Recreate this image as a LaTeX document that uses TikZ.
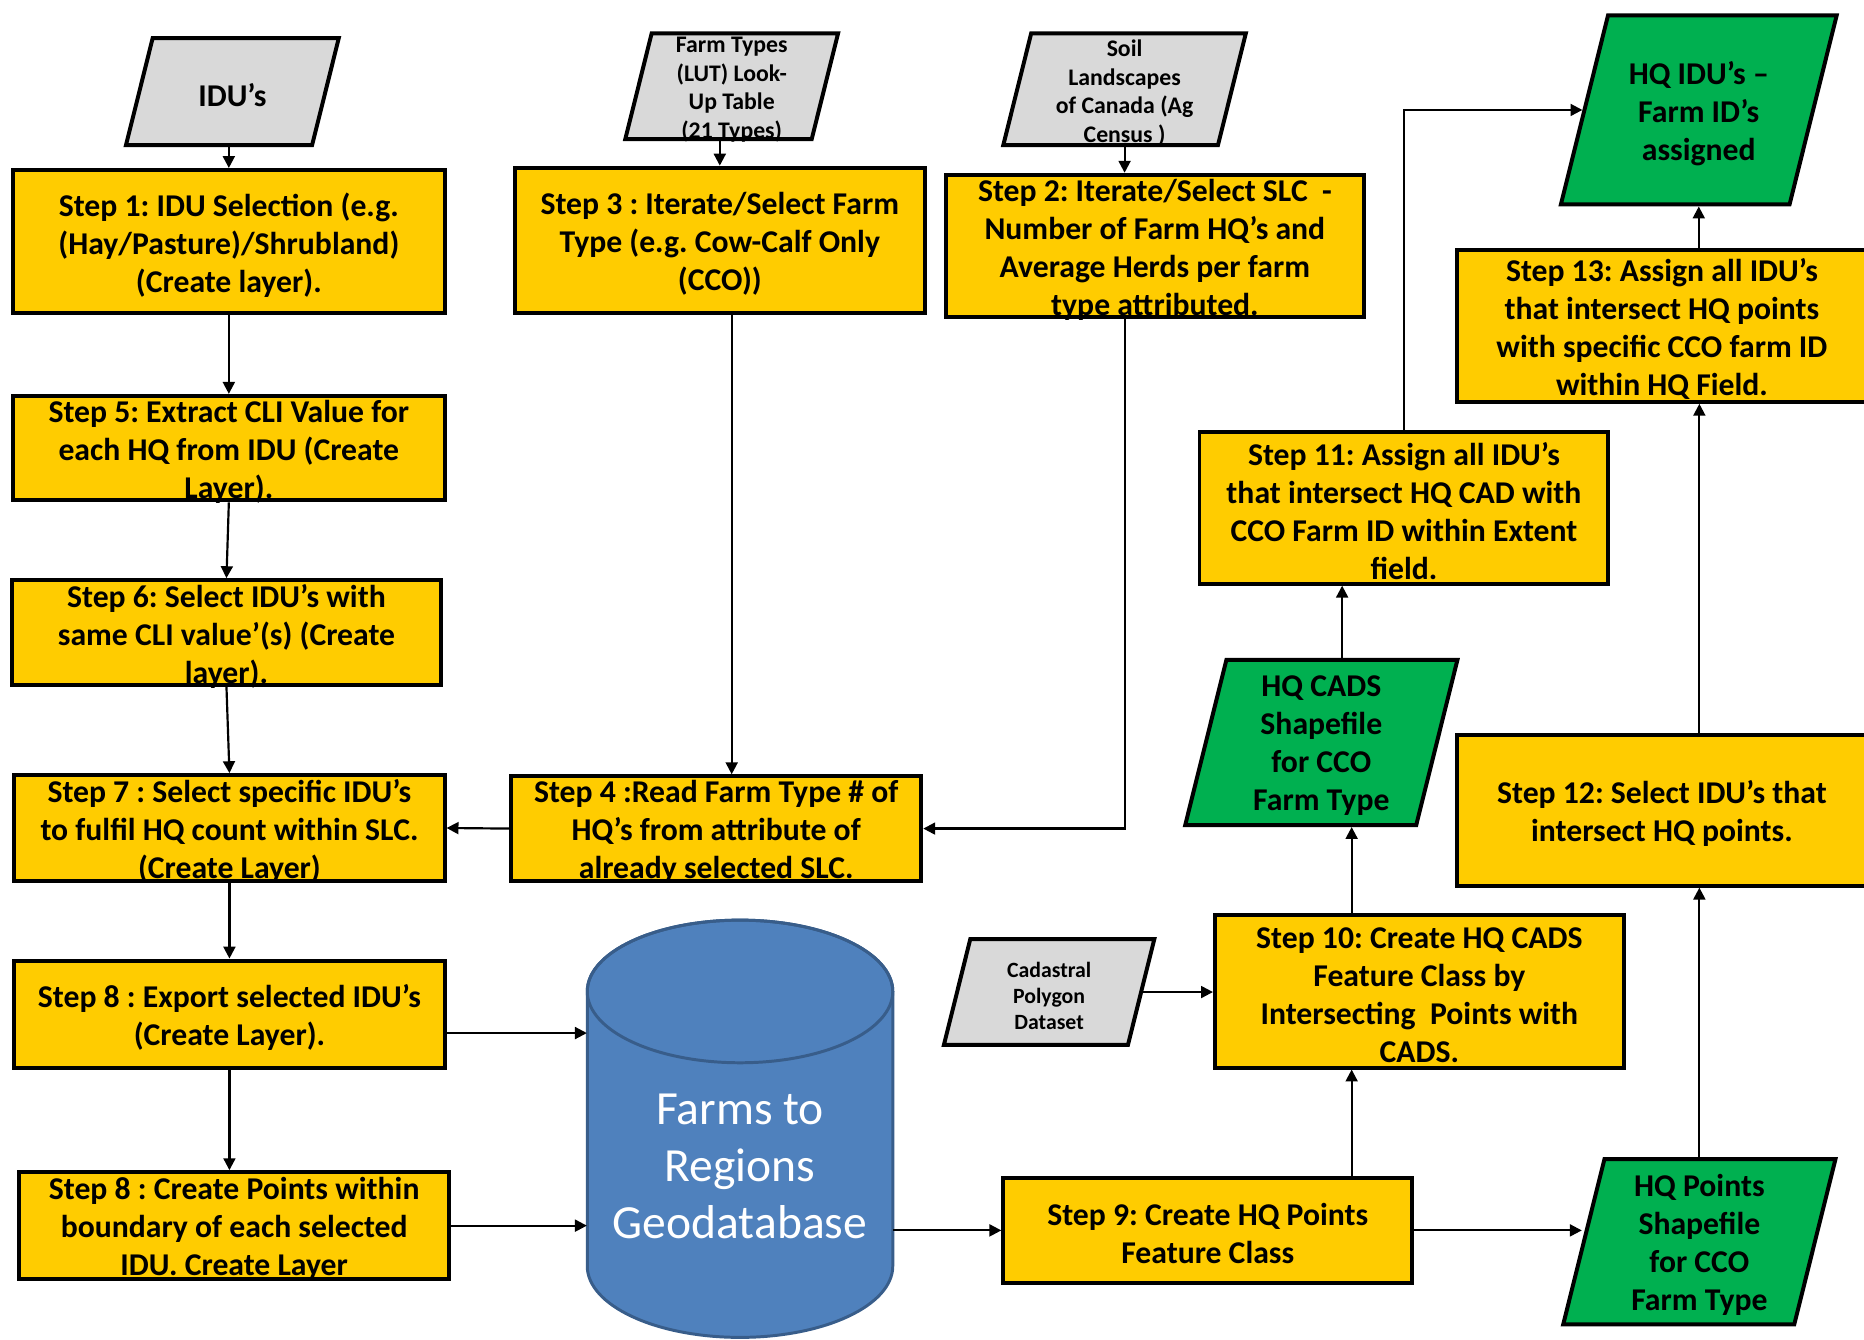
\documentclass[tikz,border=0pt]{standalone}
\usepackage{fontspec}
\setmainfont{Carlito}
\frenchspacing
\usetikzlibrary{shapes.geometric}
\usetikzlibrary{arrows.meta}
\definecolor{stepyellow}{HTML}{FFCC00}
\definecolor{outgreen}{HTML}{00B050}
\definecolor{ingray}{HTML}{D9D9D9}
\definecolor{dbblue}{HTML}{4F81BD}
\definecolor{dbedge}{HTML}{385D8A}
\tikzstyle{stepbox}=[draw, line width=2pt, fill=stepyellow, inner sep=0pt]
\tikzstyle{slanted}=[draw, line width=2pt, inner xsep=0pt, trapezium, trapezium left angle=76, trapezium right angle=104, trapezium stretches body]
\tikzstyle{inbox}=[slanted, fill=ingray]
\tikzstyle{outbox}=[slanted, fill=outgreen]
\tikzstyle{boxtext}=[align=center, inner sep=0pt, yshift=-1.8pt, font=\fontsize{16}{19.2}\selectfont\bfseries]
\tikzstyle{smalltext}=[boxtext, font=\fontsize{12}{14.4}\selectfont\bfseries]
\tikzstyle{tinytext}=[boxtext, font=\fontsize{11}{13.2}\selectfont\bfseries]
\tikzstyle{dbtext}=[align=center, inner sep=0pt, text=white, minimum width=154.2pt, font=\fontsize{24}{28.8}\selectfont]
\tikzstyle{flowline}=[line width=1.1pt, -{Triangle[length=6pt, width=6pt]}]

\begin{document}
\begin{tikzpicture}[x=0.6pt, y=-0.6pt]
        \useasboundingbox (0,0) rectangle (1568,1127);
        % inputs
        \node[inbox, minimum width=107.4pt, inner ysep=27pt, label={[boxtext]center:{IDU's}}]                          (idu) at (195.5,77) {};
        \node[inbox, minimum width=107.4pt, inner ysep=26.7pt, label={[smalltext]center:{Farm Types\\(LUT) Look-\\Up Table\\(21 Types)}}] (farm) at (615.5,72.5) {};
        \node[inbox, minimum width=122.4pt, inner ysep=28.2pt, label={[smalltext]center:{Soil\\Landscapes\\of Canada (Ag\\Census )}}]    (soil) at (946,75) {};
        \node[inbox, minimum width=106.2pt, inner ysep=26.7pt, label={[tinytext]center:{Cadastral\\Polygon\\Dataset}}]                  (cadastral) at (882.5,834.5) {};
        % outputs
        \node[outbox, minimum width=139.2pt, inner ysep=47.7pt, label={[boxtext]center:{HQ IDU's --\\Farm ID's\\assigned}}]             (hqidu) at (1429,92.5) {};
        \node[outbox, minimum width=137.4pt, inner ysep=41.7pt, label={[boxtext]center:{HQ CADS\\Shapefile\\for CCO\\Farm Type}}]      (cads) at (1111.5,624.5) {};
        \node[outbox, minimum width=137.4pt, inner ysep=41.7pt, label={[boxtext]center:{HQ Points\\Shapefile\\for CCO\\Farm Type}}]    (hqpts) at (1429.5,1044.5) {};
        % steps
        \node[stepbox, minimum width=217.8pt, minimum height=72pt, label={[boxtext]center:{Step 1: IDU Selection (e.g.\\(Hay/Pasture)/Shrubland)\\(Create layer).}}] (s1) at (192.5,203) {};
        \node[stepbox, minimum width=210.6pt, minimum height=72pt, label={[boxtext]center:{Step 2: Iterate/Select SLC~ -\\Number of Farm HQ's and\\Average Herds per farm\\type attributed.}}] (s2) at (971.5,207) {};
        \node[stepbox, minimum width=207pt, minimum height=73.2pt, label={[boxtext]center:{Step 3 : Iterate/Select Farm\\Type (e.g. Cow-Calf Only\\(CCO))}}] (s3) at (605.5,202) {};
        \node[stepbox, minimum width=207pt, minimum height=52.8pt, label={[boxtext]center:{Step 4 :Read Farm Type \# of\\HQ's from attribute of\\already selected SLC.}}] (s4) at (602.5,697) {};
        \node[stepbox, minimum width=217.8pt, minimum height=52.8pt, label={[boxtext]center:{Step 5: Extract CLI Value for\\each HQ from IDU (Create\\Layer).}}] (s5) at (192.5,377) {};
        \node[stepbox, minimum width=216.6pt, minimum height=52.8pt, label={[boxtext]center:{Step 6: Select IDU's with\\same CLI value'(s) (Create\\layer).}}] (s6) at (190.5,532) {};
        \node[stepbox, minimum width=217.2pt, minimum height=53.4pt, label={[boxtext]center:{Step 7 : Select specific IDU's\\to fulfil HQ count within SLC.\\(Create Layer)}}] (s7) at (193,696.5) {};
        \node[stepbox, minimum width=217.2pt, minimum height=54pt, label={[boxtext]center:{Step 8 : Export selected IDU's\\(Create Layer).}}] (s8) at (193,853) {};
        \node[stepbox, minimum width=217.2pt, minimum height=54pt, label={[boxtext]center:{Step 8 : Create Points within\\boundary of each selected\\IDU. Create Layer}}] (s8b) at (197,1031) {};
        \node[stepbox, minimum width=206.4pt, minimum height=52.8pt, label={[boxtext]center:{Step 9: Create HQ Points\\Feature Class}}] (s9) at (1016,1035) {};
        \node[stepbox, minimum width=206.4pt, minimum height=76.8pt, label={[boxtext]center:{Step 10: Create HQ CADS\\Feature Class by\\Intersecting~ Points with\\CADS.}}] (s10) at (1194,834) {};
        \node[stepbox, minimum width=206.4pt, minimum height=76.8pt, label={[boxtext]center:{Step 11: Assign all IDU's\\that intersect HQ CAD with\\CCO Farm ID within Extent\\field.}}] (s11) at (1181,427) {};
        \node[stepbox, minimum width=206.4pt, minimum height=76.2pt, label={[boxtext]center:{Step 12: Select IDU's that\\intersect HQ points.}}] (s12) at (1398,681.5) {};
        \node[stepbox, minimum width=206.4pt, minimum height=76.8pt, label={[boxtext]center:{Step 13: Assign all IDU's\\that intersect HQ points\\with specific CCO farm ID\\within HQ Field.}}] (s13) at (1398,274) {};
        % geodatabase
        \path[draw=dbedge, fill=dbblue, line width=1.5pt] (494,834) -- (494,1065)
            arc[start angle=180, end angle=360, x radius=77.1pt, y radius=36pt] -- (751,834)
            arc[start angle=0, end angle=180, x radius=77.1pt, y radius=36pt] -- cycle;
        \draw[dbedge, line width=1.5pt] (622.5,834) ellipse[x radius=77.1pt, y radius=36pt];
        \node[dbtext] (db) at (622.5,981) {Farms to\\Regions\\Geodatabase};
        % connectors
        \coordinate (s3out) at ([xshift=6pt]s3.south);
        \coordinate (s8out) at ([yshift=-9.6pt]s8.east);
        \coordinate (s10in) at ([xshift=-34.2pt]s10.south);
        \coordinate (s10out) at ([xshift=-34.2pt]s10.north);
        \coordinate (cadsout) at ([xshift=10.5pt]cads.north);
        \draw[flowline] (s1.north |- idu.south) -- (s1.north);
        \draw[flowline] (s3.north |- farm.south) -- (s3.north);
        \draw[flowline] (soil.south) -- (soil.south |- s2.north);
        \draw[flowline] (s1.south) -- (s5.north);
        \draw[flowline] (s5.south) -- (s6.north);
        \draw[flowline] (s6.south) -- (s7.north);
        \draw[flowline] (s7.south) -- (s8.north);
        \draw[flowline] (s8.south) -- (s8.south |- s8b.north);
        \draw[flowline] (s3out) -- (s3out |- s4.north);
        \draw[flowline] (s4.west) -- (s7.east);
        \draw[flowline] (s2.south -| soil.south) |- (s4.east);
        \draw[flowline] (s8out) -- (s8out -| db.west);
        \draw[flowline] (s8b.east) -- (s8b.east -| db.west);
        \draw[flowline] (db.east |- s9.west) -- (s9.west);
        \draw[flowline] (s10in |- s9.north) -- (s10in);
        \draw[flowline] (s10out) -- (s10out |- cads.south);
        \draw[flowline] (cadsout) -- (cadsout |- s11.south);
        \draw[flowline] (cadastral.east) -- (cadastral.east -| s10.west);
        \draw[flowline] (s9.east) -- (s9.east -| hqpts.west);
        \draw[flowline] (hqpts.north) -- (hqpts.north |- s12.south);
        \draw[flowline] (hqpts.north |- s12.north) -- (hqpts.north |- s13.south);
        \draw[flowline] (hqidu.south |- s13.north) -- (hqidu.south);
        \draw[flowline] (s11.north) |- (hqidu.west);
    \end{tikzpicture}
\end{document}
